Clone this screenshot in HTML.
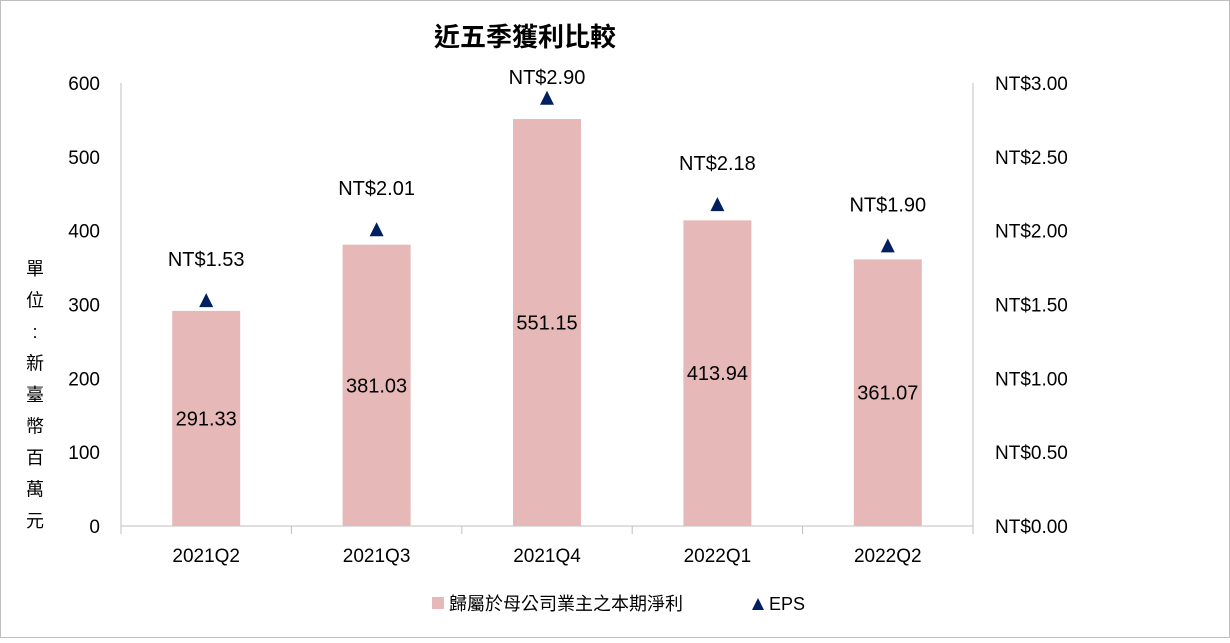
<!DOCTYPE html>
<html><head><meta charset="utf-8"><style>
body{margin:0;background:#fff}
svg text{font-family:"Liberation Sans","Noto Sans CJK TC",sans-serif;fill:#000}
</style></head><body>
<svg width="1230" height="638" xmlns="http://www.w3.org/2000/svg" id="chart">
<rect x="0.5" y="0.5" width="1229" height="637" fill="#fff" stroke="#bfbfbf"/>
<text x="525" y="46" text-anchor="middle" font-size="26" font-weight="bold">近五季獲利比較</text>
<g id="ytitle" font-size="18"></g>
<g id="grid"></g>
<g id="bars"></g>
<g id="marks"></g>
<g>
<rect x="432" y="597" width="12" height="12" fill="#E6B8B7"/>
<text x="449" y="610" font-size="18">歸屬於母公司業主之本期淨利</text>
<polygon points="752,610 764,610 758,598" fill="#002060"/>
<text x="769" y="610" font-size="18">EPS</text>
</g>
</svg>
<script>
const categories=["2021Q2","2021Q3","2021Q4","2022Q1","2022Q2"];
const profit=[291.33,381.03,551.15,413.94,361.07];
const eps=[1.53,2.01,2.90,2.18,1.90];
const leftTicks=[0,100,200,300,400,500,600];
const rightTicks=[0,0.5,1,1.5,2,2.5,3];
const NS="http://www.w3.org/2000/svg";
const X0=121,X1=973,Y0=526,Y1=83;
const yL=v=>Y0-(v/600)*(Y0-Y1);
const yR=v=>Y0-(v/3)*(Y0-Y1);
const band=(X1-X0)/categories.length;
const xc=i=>X0+band*(i+0.5);
function mk(tag,attrs,parent,txt){const e=document.createElementNS(NS,tag);for(const k in attrs)e.setAttribute(k,attrs[k]);if(txt!==undefined)e.textContent=txt;parent.appendChild(e);return e;}
const grid=document.getElementById('grid'),bars=document.getElementById('bars'),marks=document.getElementById('marks');
let e=mk('line',{x1:X0,y1:Y1,x2:X0,y2:Y0,stroke:'#bfbfbf'},grid);


e=mk('line',{x1:X1,y1:Y1,x2:X1,y2:Y0,stroke:'#bfbfbf'},grid);


e=mk('line',{x1:X0,y1:Y0,x2:X1,y2:Y0,stroke:'#bfbfbf'},grid);


for(let i=0;i<=categories.length;i++){
 e=mk('line',{x1:X0+band*i,y1:Y0,x2:X0+band*i,y2:Y0+8,stroke:'#bfbfbf'},grid);
 
 
}
leftTicks.forEach(v=>{
 e=mk('text',{x:100,y:yL(v)+7,'text-anchor':'end','font-size':19},grid,String(v));
 
 
});
rightTicks.forEach(v=>{
 e=mk('text',{x:995,y:yR(v)+7,'font-size':19},grid,'NT$'+v.toFixed(2));
 
 
});
const yt=document.getElementById('ytitle');
"單位：新臺幣百萬元".split('').forEach((c,i)=>{
 e=mk('text',{x:35,y:275+i*31.5,'text-anchor':'middle','font-size':18},yt,c==='：'?':':c);
});
categories.forEach((c,i)=>{
 e=mk('text',{x:xc(i),y:562,'text-anchor':'middle','font-size':19},grid,c);
 
 
 const w=68;
 e=mk('rect',{x:xc(i)-w/2,y:yL(profit[i]),width:w,height:Y0-yL(profit[i]),fill:'#E6B8B7'},bars);
 
 
 e=mk('text',{x:xc(i),y:(yL(profit[i])+Y0)/2+7,'text-anchor':'middle','font-size':20},bars,profit[i].toFixed(2));
 
 
 const py=yR(eps[i]);
 e=mk('polygon',{points:`${xc(i)-7},${py+7} ${xc(i)+7},${py+7} ${xc(i)},${py-7}`,fill:'#002060'},marks);
 
 
 e=mk('text',{x:xc(i),y:Math.max(py-34,84),'text-anchor':'middle','font-size':20},marks,'NT$'+eps[i].toFixed(2));
 
 
});
</script>
</body></html>
